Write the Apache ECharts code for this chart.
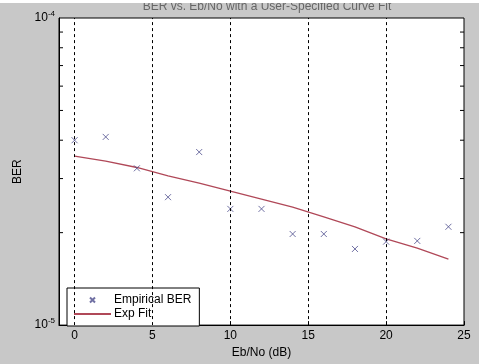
<!DOCTYPE html>
<html>
<head>
<meta charset="utf-8">
<script src="https://cdn.jsdelivr.net/npm/echarts@6/dist/echarts.min.js"></script>
<style>
  html, body { margin: 0; padding: 0; background: #fff; }
  #chart { width: 479px; height: 364px; }
</style>
</head>
<body>
<div id="chart"></div>
<script>
// measured BER points
const berX = [0, 2, 4, 6, 8, 10, 12, 14, 16, 18, 20, 22, 24]
const berY = [4.0e-5, 4.1e-5, 3.24e-5, 2.61e-5, 3.66e-5, 2.39e-5, 2.39e-5, 1.98e-5, 1.98e-5, 1.77e-5, 1.87e-5, 1.88e-5, 2.09e-5]

// exponential fit curve
const fitX = [0, 2, 4, 6, 8, 10, 12, 14, 16, 18, 20, 22, 24]
const fitY = [3.55e-5, 3.42e-5, 3.26e-5, 3.06e-5, 2.90e-5, 2.73e-5, 2.57e-5, 2.42e-5, 2.25e-5, 2.09e-5, 1.91e-5, 1.78e-5, 1.64e-5]

const xTicks = [0, 5, 10, 15, 20, 25]
const xGrid = [0, 5, 10, 15, 20]
const yMinor = [2e-5, 3e-5, 4e-5, 5e-5, 6e-5, 7e-5, 8e-5, 9e-5]

const font = "'Liberation Sans', Arial, sans-serif"
const xMark = 'path://M0,0L10,10M10,0L0,10'
const chart = echarts.init(document.getElementById('chart'))

const option = {
  backgroundColor: '#c8c8c8',
  animation: false,
  textStyle: { fontFamily: font },
  title: {
    text: 'BER vs. Eb/No with a User-Specified Curve Fit',
    left: 262,
    textAlign: 'center',
    top: -4,
    textStyle: { fontSize: 12, fontWeight: 'normal', color: '#666', fontFamily: font }
  },
  graphic: [
    { type: 'rect', left: 0, top: 0, shape: { width: 479, height: 3 }, style: { fill: '#fff' }, z: 100 }
  ],
  grid: {
    left: 59, right: 15, top: 18, bottom: 32,
    show: true, backgroundColor: '#fff', borderColor: '#000', borderWidth: 1
  },
  legend: {
    data: [
      { name: 'Empirical BER', icon: xMark },
      { name: 'Exp Fit', icon: 'inherit', itemStyle: { opacity: 0 } }
    ],
    orient: 'vertical',
    left: 67, top: 288,
    padding: [6, 8, 6, 6],
    backgroundColor: '#fff',
    borderColor: '#000',
    borderWidth: 1,
    itemWidth: 37,
    itemHeight: 5,
    itemGap: 2,
    textStyle: { fontSize: 12, color: '#000', fontFamily: font, padding: [0, 0, 0, -2] }
  },
  xAxis: {
    type: 'value',
    min: -1, max: 25,
    name: 'Eb/No (dB)',
    nameLocation: 'middle',
    nameGap: 20,
    nameTextStyle: { fontSize: 12, color: '#000' },
    axisLine: { show: true, onZero: false, lineStyle: { color: '#000' } },
    axisTick: { inside: true, length: 4, customValues: xTicks, lineStyle: { color: '#000' } },
    axisLabel: { customValues: xTicks, fontSize: 12, color: '#000', margin: 5 },
    splitLine: { show: false }
  },
  yAxis: {
    type: 'log',
    logBase: 10,
    min: 1e-5, max: 1e-4,
    name: 'BER',
    nameLocation: 'middle',
    nameGap: 33,
    nameTextStyle: { fontSize: 12, color: '#000' },
    axisLine: { show: true, onZero: false, lineStyle: { color: '#000' } },
    axisTick: { show: false },
    splitLine: { show: false },
    axisLabel: {
      margin: 4,
      color: '#000',
      formatter: function (v) {
        const e = Math.round(Math.log10(v))
        return '{b|10}{s|' + e + '}'
      },
      rich: {
        b: { fontSize: 12, color: '#000', fontFamily: font },
        s: { fontSize: 8, color: '#000', fontFamily: font, padding: [0, 0, 9, 0] }
      }
    }
  },
  series: [
    {
      name: 'grid',
      type: 'custom',
      silent: true,
      z: 1,
      data: yMinor,
      renderItem: function (params, api) {
        const cs = params.coordSys
        const y = api.coord([0, api.value(0)])[1]
        return {
          type: 'group',
          children: [
            { type: 'line', shape: { x1: cs.x, y1: y, x2: cs.x + 4, y2: y }, style: { stroke: '#000', lineWidth: 1 } },
            { type: 'line', shape: { x1: cs.x + cs.width - 4, y1: y, x2: cs.x + cs.width, y2: y }, style: { stroke: '#000', lineWidth: 1 } }
          ]
        }
      },
      encode: { y: 0 },
      markLine: {
        silent: true,
        symbol: 'none',
        label: { show: false },
        lineStyle: { color: '#000', type: [3, 3], width: 1 },
        data: xGrid.map(v => ({ xAxis: v }))
      }
    },
    {
      name: 'Empirical BER',
      type: 'scatter',
      symbol: xMark,
      symbolKeepAspect: true,
      symbolSize: 6,
      itemStyle: { color: 'transparent', borderColor: '#4c4c8c', borderWidth: 1 },
      data: berX.map((x, i) => [x, berY[i]]),
      z: 3
    },
    {
      name: 'Exp Fit',
      type: 'line',
      symbol: 'none',
      lineStyle: { color: '#b04858', width: 1.3 },
      itemStyle: { color: '#b04858' },
      data: fitX.map((x, i) => [x, fitY[i]]),
      z: 2
    }
  ]
}

chart.setOption(option)
</script>
</body>
</html>
